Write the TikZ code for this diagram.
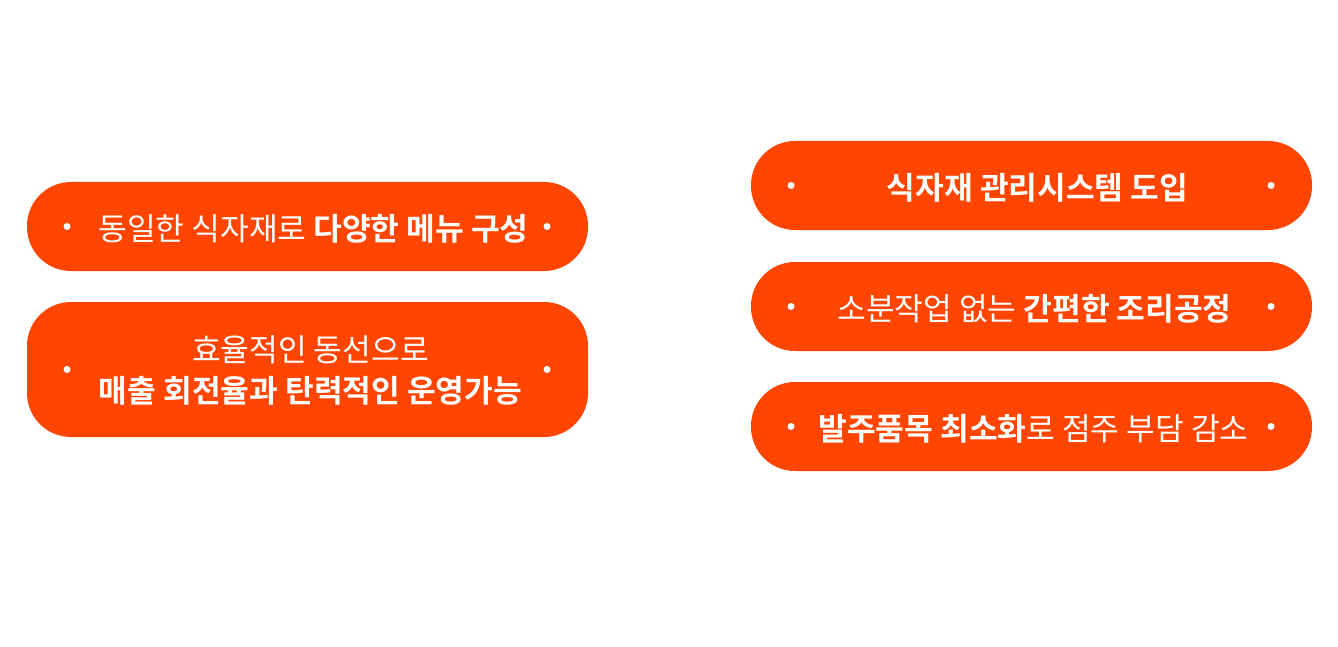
\documentclass[tikz,border=0pt]{standalone}
\usepackage{fontspec}
\setmainfont{Noto Sans CJK KR}[BoldFont={Noto Sans CJK KR Bold}]
\definecolor{pillred}{HTML}{FF4500}
\begin{document}
\begin{tikzpicture}[x=1pt,y=-1pt,
  pill/.style={fill=pillred, draw=none, rounded corners=44pt, minimum width=561pt, inner sep=0pt},
  dotmark/.style={circle, fill=white, draw=none, minimum size=7pt, inner sep=0pt},
  label/.style={text=white, font=\fontsize{31.2}{41}\selectfont, align=center, inner sep=0pt}]
\useasboundingbox (0,0) rectangle (1338,647);
\fill[white] (0,0) rectangle (1338,647);
% left column
\node[pill, minimum height=89pt] (l1) at (307.5,226.5) {};
\node[pill, minimum height=135pt] (l2) at (307.5,369.5) {};
% right column
\node[pill, minimum height=89pt] (r1) at (1031.5,185.5) {};
\node[pill, minimum height=89pt] (r2) at (1031.5,306.5) {};
\node[pill, minimum height=89pt] (r3) at (1031.5,426.5) {};
% dots
\foreach \p/\a/\b in {l1/67/547, l2/67/547, r1/791/1271, r2/791/1271, r3/791/1271}{
  \node[dotmark] (\p dl) at (\a,0 |- \p.center) {};
  \node[dotmark] (\p dr) at (\b,0 |- \p.center) {};
}
% texts
\node[label] (t1) at ([xshift=6pt,yshift=-2pt]l1.center) {동일한 식자재로 \textbf{다양한 메뉴 구성}};
\node[label] (t2) at ([xshift=3pt,yshift=-1pt]l2.center) {효율적인 동선으로\\\textbf{매출 회전율과 탄력적인 운영가능}};
\node[label] (t3) at ([xshift=6pt,yshift=-2pt]r1.center) {\textbf{식자재 관리시스템 도입}};
\node[label] (t4) at ([xshift=3pt,yshift=-2pt]r2.center) {소분작업 없는 \textbf{간편한 조리공정}};
\node[label] (t5) at ([xshift=2pt,yshift=-2pt]r3.center) {\textbf{발주품목 최소화}로 점주 부담 감소};
\end{tikzpicture}
\end{document}
